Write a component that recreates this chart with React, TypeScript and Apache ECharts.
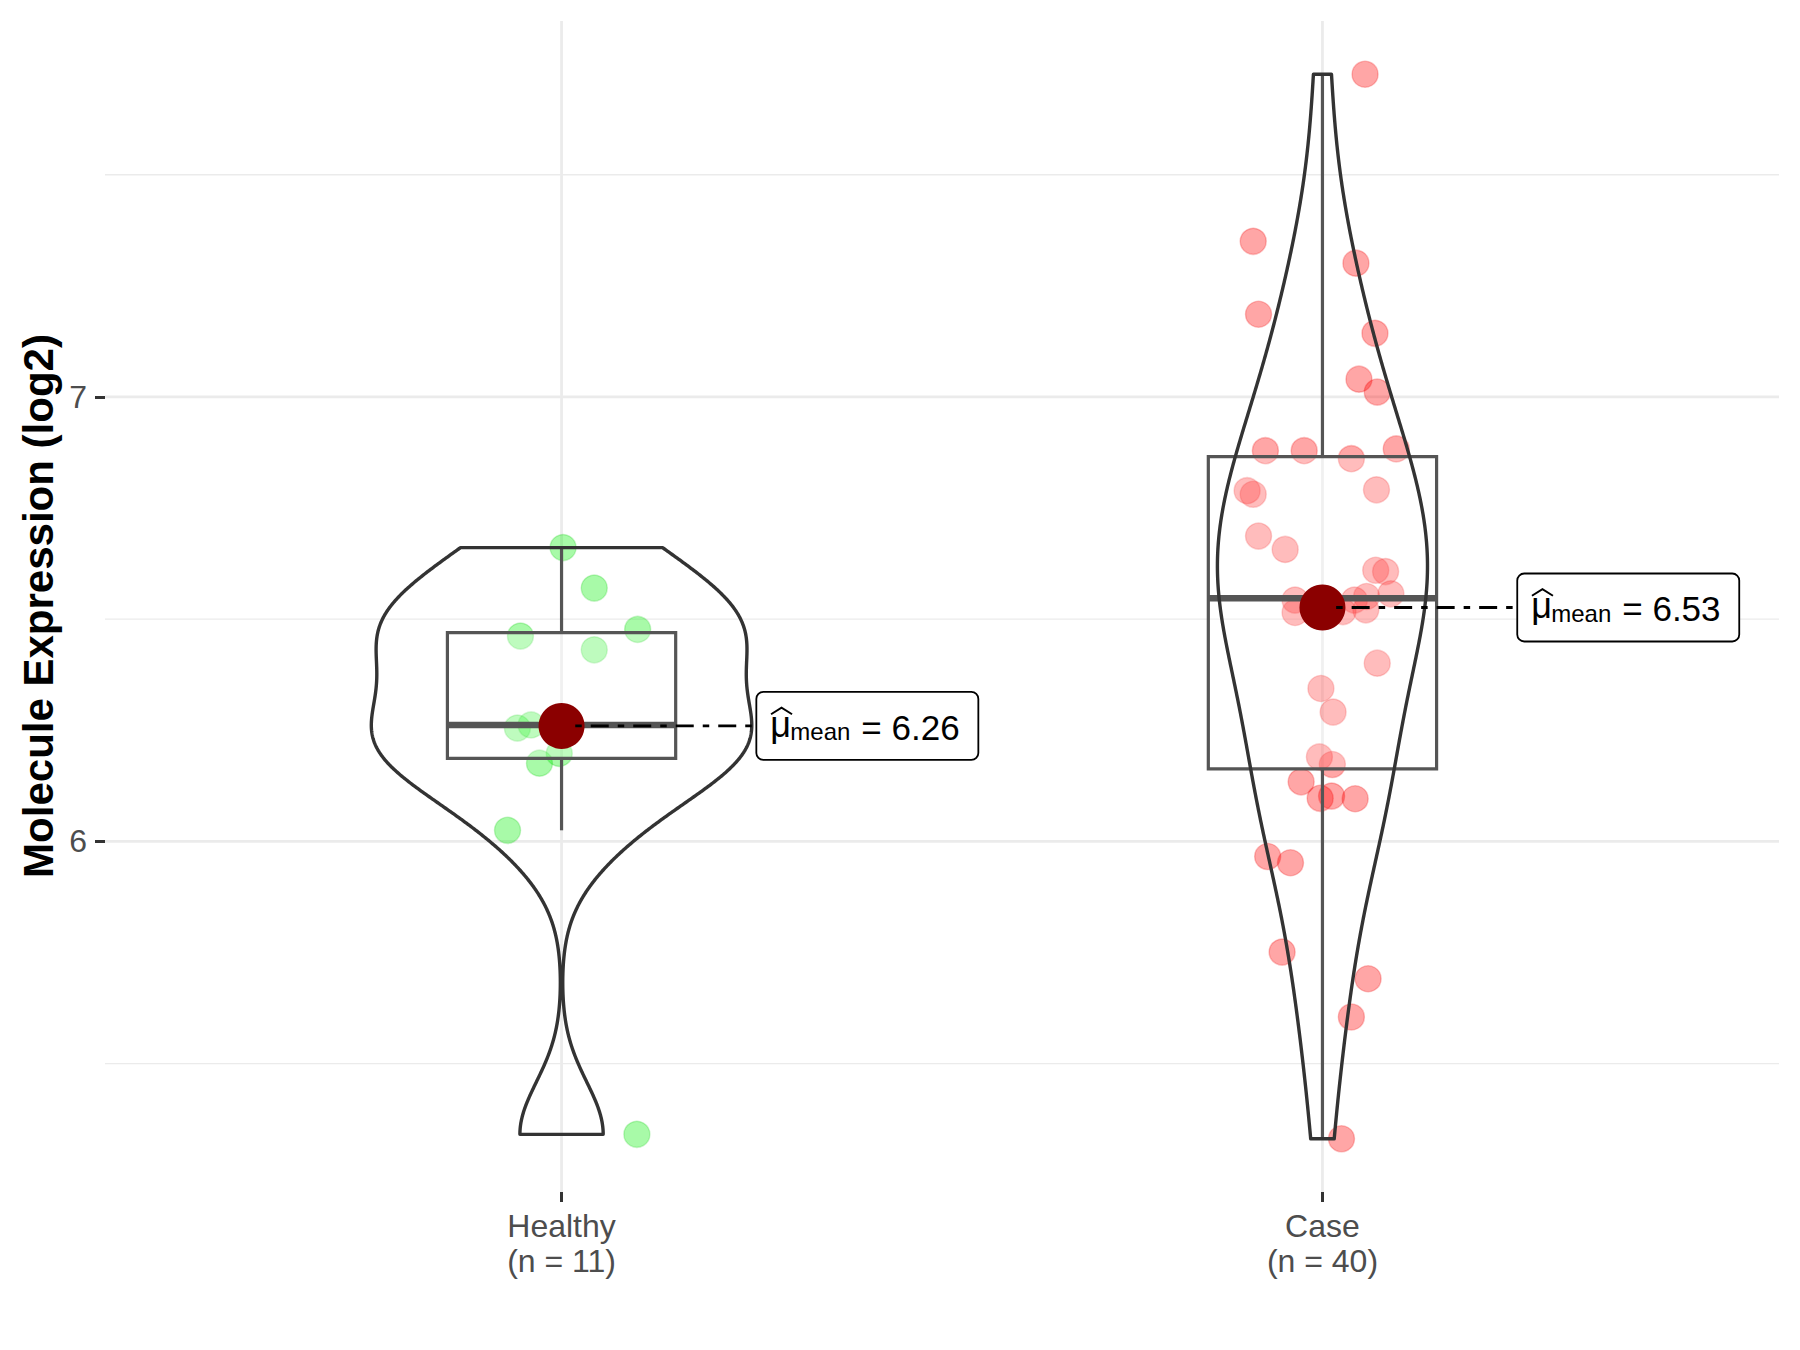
import React, { useEffect, useRef } from "react";
import * as echarts from "echarts";

// ---------------- data ----------------
const categories = ["Healthy", "Case"];
const categoryPositions = [1, 2];

const healthyValues = [6.661, 6.57, 6.462, 6.477, 6.431, 6.255, 6.262, 6.198, 6.176, 6.025, 5.341];
const healthyJitter = [0.002, 0.043, -0.054, 0.1, 0.043, -0.058, -0.04, -0.003, -0.029, -0.071, 0.099];

const caseValues = [
  7.726, 7.35, 7.301, 7.186, 7.143, 7.04, 7.011, 6.879, 6.879, 6.861,
  6.883, 6.789, 6.781, 6.791, 6.687, 6.657, 6.61, 6.607, 6.557, 6.543,
  6.515, 6.543, 6.551, 6.521, 6.517, 6.401, 6.344, 6.291, 6.19, 6.173,
  6.134, 6.097, 6.102, 6.096, 5.966, 5.952, 5.751, 5.691, 5.605, 5.331,
];
const caseJitter = [
  0.056, -0.091, 0.044, -0.084, 0.069, 0.048, 0.072, -0.075, -0.024, 0.038,
  0.097, -0.099, -0.091, 0.071, -0.084, -0.049, 0.07, 0.083, 0.09, -0.036,
  -0.036, 0.042, 0.058, 0.057, 0.027, 0.072, -0.002, 0.014, -0.004, 0.013,
  -0.028, -0.003, 0.012, 0.043, -0.072, -0.042, -0.053, 0.06, 0.038, 0.025,
];

const yTickValues = [6, 7];
const yMinorGrid = [5.5, 6.5, 7.5];
const yAxisTitle = "Molecule Expression (log2)";

// ---------------- styling ----------------
const FONT = "'Liberation Sans', Arial, Helvetica, sans-serif";
const pointFill = ["rgba(0,240,0,0.34)", "rgba(255,0,0,0.35)"];
const pointBorder = ["rgba(0,200,0,0.22)", "rgba(240,0,0,0.25)"];
const VIOLIN_HALF = 0.25;
const BOX_HALF = 0.15;
const LABEL_OFFSET = 0.256;
const SEG_START = 0.018;

// ---------------- statistics ----------------
function sortAsc(a: number[]) {
  return [...a].sort((x, y) => x - y);
}
function quantile(sorted: number[], p: number) {
  const h = (sorted.length - 1) * p;
  const lo = Math.floor(h);
  const hi = Math.ceil(h);
  return sorted[lo] + (h - lo) * (sorted[hi] - sorted[lo]);
}
function meanOf(a: number[]) {
  return a.reduce((s, v) => s + v, 0) / a.length;
}
function sdOf(a: number[]) {
  const m = meanOf(a);
  return Math.sqrt(a.reduce((s, v) => s + (v - m) * (v - m), 0) / (a.length - 1));
}
function boxStats(a: number[]) {
  const s = sortAsc(a);
  const q1 = quantile(s, 0.25);
  const med = quantile(s, 0.5);
  const q3 = quantile(s, 0.75);
  const iqr = q3 - q1;
  const lo = Math.min(...s.filter((v) => v >= q1 - 1.5 * iqr));
  const hi = Math.max(...s.filter((v) => v <= q3 + 1.5 * iqr));
  return { q1, med, q3, lo, hi };
}
function bwNrd0(a: number[]) {
  const s = sortAsc(a);
  const hi = sdOf(a);
  const iqr = quantile(s, 0.75) - quantile(s, 0.25);
  let lo = Math.min(hi, iqr / 1.34);
  if (!(lo > 0)) lo = hi || Math.abs(s[0]) || 1;
  return 0.9 * lo * Math.pow(a.length, -0.2);
}
function kde(a: number[], n = 512) {
  const bw = bwNrd0(a);
  const from = Math.min(...a);
  const to = Math.max(...a);
  const out: number[][] = [];
  const c = 1 / (a.length * bw * Math.sqrt(2 * Math.PI));
  for (let i = 0; i < n; i++) {
    const y = from + ((to - from) * i) / (n - 1);
    let d = 0;
    for (const v of a) {
      const z = (y - v) / bw;
      d += Math.exp(-0.5 * z * z);
    }
    out.push([y, d * c]);
  }
  return out;
}

const groups = [healthyValues, caseValues];
const jitters = [healthyJitter, caseJitter];
const stats = groups.map(boxStats);
const means = groups.map(meanOf);
const densities = groups.map((g) => kde(g));
const globalMaxDens = Math.max(...densities.map((d) => Math.max(...d.map((p) => p[1]))));
const allValues = groups.flat();
const dataMin = Math.min(...allValues);
const dataMax = Math.max(...allValues);
const yMin = dataMin - 0.05 * (dataMax - dataMin);
const yMax = dataMax + 0.05 * (dataMax - dataMin);
const xMin = 0.4;
const xMax = 2.6;

function buildOption(): any {
  const series: any[] = [];

  // grid lines
  const gridData: number[][] = [
    ...yTickValues.map((v) => [v, 0]),
    ...yMinorGrid.map((v) => [v, 1]),
    ...categoryPositions.map((v) => [v, 2]),
  ];
  series.push({
    type: "custom",
    z: 0,
    silent: true,
    data: gridData,
    renderItem: (params: any, api: any) => {
      const cs = params.coordSys;
      const v = api.value(0);
      const kind = api.value(1);
      if (kind < 2) {
        const p = api.coord([xMin, v]);
        return {
          type: "line",
          shape: { x1: cs.x, y1: p[1], x2: cs.x + cs.width, y2: p[1] },
          style: { stroke: "#EBEBEB", lineWidth: kind === 0 ? 2.8 : 1.4 },
        };
      }
      const p = api.coord([v, yMin]);
      return {
        type: "line",
        shape: { x1: p[0], y1: cs.y, x2: p[0], y2: cs.y + cs.height },
        style: { stroke: "#EBEBEB", lineWidth: 2.8 },
      };
    },
  });

  // jittered points
  groups.forEach((g, gi) => {
    series.push({
      type: "scatter",
      name: categories[gi],
      z: 1,
      silent: true,
      symbol: "circle",
      symbolSize: 26,
      itemStyle: { color: pointFill[gi], borderColor: pointBorder[gi], borderWidth: 1.4, opacity: 1 },
      data: g.map((v, i) => [categoryPositions[gi] + jitters[gi][i], v]),
    });
  });

  // box plots (semi-transparent white fill over the points)
  series.push({
    type: "custom",
    z: 2,
    silent: true,
    data: stats.map((s, i) => [categoryPositions[i], s.q1, s.med, s.q3, s.lo, s.hi]),
    renderItem: (_params: any, api: any) => {
      const x = api.value(0);
      const q1 = api.value(1);
      const med = api.value(2);
      const q3 = api.value(3);
      const lo = api.value(4);
      const hi = api.value(5);
      const tl = api.coord([x - BOX_HALF, q3]);
      const br = api.coord([x + BOX_HALF, q1]);
      const ml = api.coord([x - BOX_HALF, med]);
      const mr = api.coord([x + BOX_HALF, med]);
      const c = api.coord([x, q3]);
      const wHi = api.coord([x, hi]);
      const cLo = api.coord([x, q1]);
      const wLo = api.coord([x, lo]);
      const st = { stroke: "#555555", lineWidth: 3.2, fill: "none" };
      return {
        type: "group",
        children: [
          { type: "line", shape: { x1: c[0], y1: c[1], x2: wHi[0], y2: wHi[1] }, style: st },
          { type: "line", shape: { x1: cLo[0], y1: cLo[1], x2: wLo[0], y2: wLo[1] }, style: st },
          {
            type: "rect",
            shape: { x: tl[0], y: tl[1], width: br[0] - tl[0], height: br[1] - tl[1] },
            style: { stroke: "#555555", lineWidth: 3.2, fill: "rgba(255,255,255,0.25)" },
          },
          { type: "line", shape: { x1: ml[0], y1: ml[1], x2: mr[0], y2: mr[1] }, style: { stroke: "#555555", lineWidth: 6.5 } },
        ],
      };
    },
  });

  // violins
  series.push({
    type: "custom",
    z: 3,
    silent: true,
    data: categoryPositions.map((p, i) => [p, i]),
    renderItem: (_params: any, api: any) => {
      const x = api.value(0);
      const gi = api.value(1);
      const d = densities[gi];
      const pts: number[][] = [];
      for (let i = 0; i < d.length; i++) {
        const hw = (VIOLIN_HALF * d[i][1]) / globalMaxDens;
        pts.push(api.coord([x - hw, d[i][0]]));
      }
      for (let i = d.length - 1; i >= 0; i--) {
        const hw = (VIOLIN_HALF * d[i][1]) / globalMaxDens;
        pts.push(api.coord([x + hw, d[i][0]]));
      }
      return {
        type: "polygon",
        shape: { points: pts },
        style: { fill: "none", stroke: "#333333", lineWidth: 3.4, lineJoin: "round" },
      };
    },
  });

  // means
  series.push({
    type: "scatter",
    z: 4,
    silent: true,
    symbol: "circle",
    symbolSize: 46,
    itemStyle: { color: "#8B0000", opacity: 1 },
    data: means.map((m, i) => [categoryPositions[i], m]),
  });

  // mean labels
  series.push({
    type: "custom",
    z: 5,
    silent: true,
    data: means.map((m, i) => [categoryPositions[i], m]),
    renderItem: (params: any, api: any) => {
      const x = api.value(0);
      const m = api.value(1);
      const idx = params.dataIndex;
      const start = api.coord([x + SEG_START, m]);
      const anchor = api.coord([x + LABEL_OFFSET, m]);
      const px = anchor[0];
      const py = anchor[1];
      const label = means[idx].toFixed(2);
      return {
        type: "group",
        children: [
          {
            type: "line",
            shape: { x1: start[0], y1: py, x2: px, y2: py },
            style: { stroke: "#000", lineWidth: 2.8, lineDash: [6.5, 9, 18, 9] },
          },
          {
            type: "rect",
            shape: { x: px, y: py - 34, width: 222, height: 68, r: 7 },
            style: { fill: "#fff", stroke: "#000", lineWidth: 1.8 },
          },
          {
            type: "polyline",
            shape: { points: [[px + 14.7, py - 11.7], [px + 25.2, py - 18.3], [px + 35.7, py - 11.7]] },
            style: { stroke: "#000", lineWidth: 2, fill: "none" },
          },
          {
            type: "text",
            x: px + 14,
            y: py + 10.6 - 0.3465 * 36,
            style: { text: "μ", fontSize: 36, fontFamily: FONT, fill: "#000", align: "left", verticalAlign: "middle" },
          },
          {
            type: "text",
            x: px + 34,
            y: py + 14 - 0.3465 * 24,
            style: { text: "mean", fontSize: 24, fontFamily: FONT, fill: "#000", align: "left", verticalAlign: "middle" },
          },
          {
            type: "text",
            x: px + 105,
            y: py + 13.3 - 0.3465 * 35,
            style: { text: "= " + label, fontSize: 35, fontFamily: FONT, fill: "#000", align: "left", verticalAlign: "middle" },
          },
        ],
      };
    },
  });

  return {
    animation: false,
    backgroundColor: "#ffffff",
    textStyle: { fontFamily: FONT },
    grid: { left: 105, right: 21, top: 21, bottom: 158, containLabel: false },
    xAxis: {
      type: "value",
      min: xMin,
      max: xMax,
      axisLine: { show: false },
      splitLine: { show: false },
      axisTick: { show: true, customValues: categoryPositions, length: 10, lineStyle: { color: "#333333", width: 3 } },
      axisLabel: {
        customValues: categoryPositions,
        fontSize: 32,
        lineHeight: 35,
        color: "#4D4D4D",
        margin: 16,
        fontFamily: FONT,
        formatter: (v: number) => {
          const i = categoryPositions.indexOf(v);
          if (i < 0) return "";
          return categories[i] + "\n(n = " + groups[i].length + ")";
        },
      },
    },
    yAxis: {
      type: "value",
      min: yMin,
      max: yMax,
      axisLine: { show: false },
      splitLine: { show: false },
      axisTick: { show: true, customValues: yTickValues, length: 10, lineStyle: { color: "#333333", width: 3 } },
      axisLabel: {
        customValues: yTickValues,
        fontSize: 32,
        color: "#4D4D4D",
        margin: 18,
        fontFamily: FONT,
      },
    },
    graphic: [
      {
        type: "text",
        x: 38,
        y: 606,
        rotation: Math.PI / 2,
        style: {
          text: yAxisTitle,
          fontSize: 42,
          fontWeight: "bold",
          fontFamily: FONT,
          fill: "#000000",
          align: "center",
          verticalAlign: "middle",
        },
      },
    ],
    series,
  };
}

export default function App() {
  const ref = useRef<HTMLDivElement>(null);
  useEffect(() => {
    if (!ref.current) return;
    const chart = echarts.init(ref.current, undefined, { renderer: "svg" });
    chart.setOption(buildOption());
    return () => chart.dispose();
  }, []);
  return (
    <div
      ref={ref}
      style={{ position: "fixed", left: 0, top: 0, width: 1800, height: 1350, background: "#fff" }}
    />
  );
}
